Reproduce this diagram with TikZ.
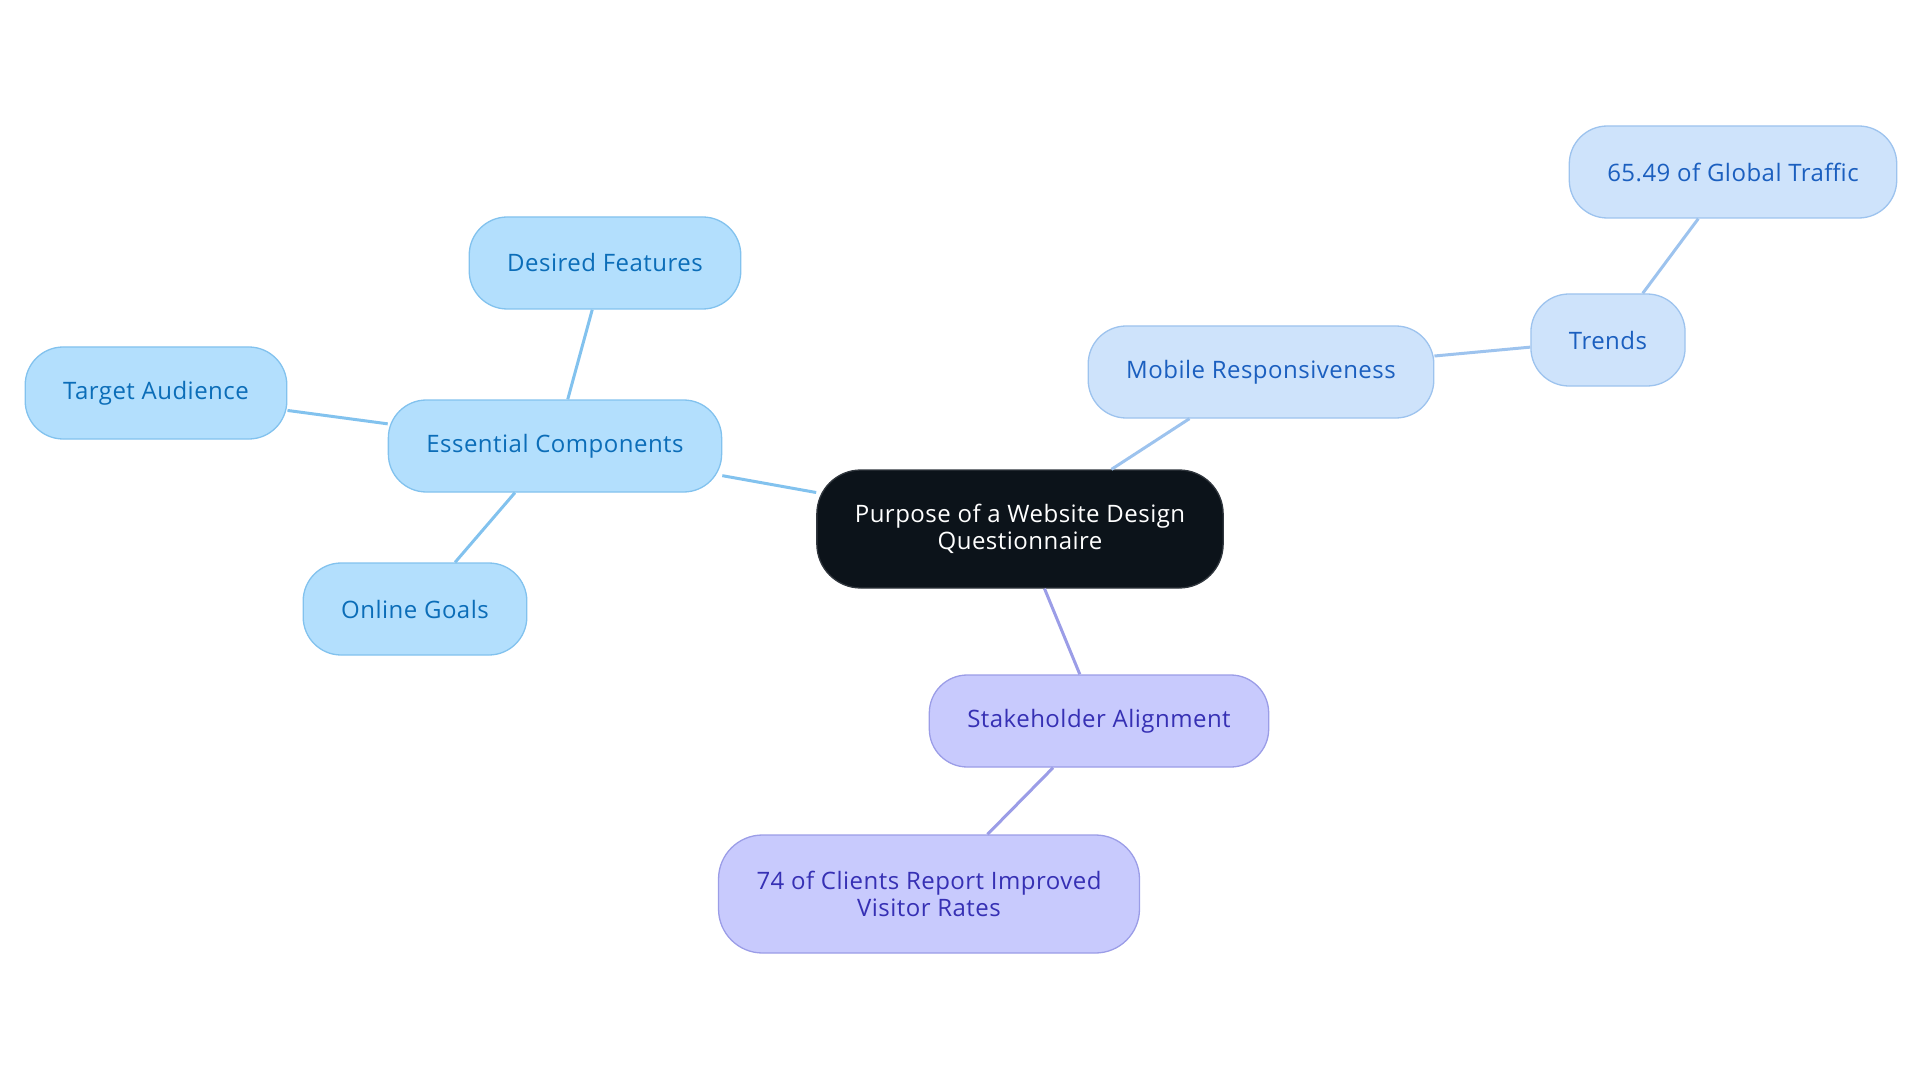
\documentclass[tikz,border=0pt]{standalone}
\usepackage{fontspec}
\setmainfont[LetterSpace=2]{Open Sans}
\usepackage{xcolor}
\usepackage{tikz}
\usetikzlibrary{positioning}

\definecolor{essfill}{HTML}{B3DFFD}
\definecolor{essdraw}{HTML}{82C2EE}
\definecolor{esstext}{HTML}{0B6DB8}
\definecolor{mobfill}{HTML}{CEE3FB}
\definecolor{mobdraw}{HTML}{9DC3EE}
\definecolor{mobtext}{HTML}{1B5FBF}
\definecolor{stkfill}{HTML}{C8CAFD}
\definecolor{stkdraw}{HTML}{9B9DE7}
\definecolor{stktext}{HTML}{3630B4}
\definecolor{rootfill}{HTML}{0C131A}
\definecolor{rootdraw}{HTML}{30363D}

\begin{document}
\begin{tikzpicture}[x=1pt, y=-1pt, font=\fontsize{24}{27}\selectfont,
		bubble/.style={draw, line width=1.3pt, rounded corners=38pt, minimum height=92pt, inner xsep=38pt, align=center},
		essnode/.style={bubble, fill=essfill, draw=essdraw, text=esstext},
		mobnode/.style={bubble, fill=mobfill, draw=mobdraw, text=mobtext},
		stknode/.style={bubble, fill=stkfill, draw=stkdraw, text=stktext},
		esslink/.style={draw=essdraw, line width=3pt},
		moblink/.style={draw=mobdraw, line width=3pt},
		stklink/.style={draw=stkdraw, line width=3pt}]
		\useasboundingbox (0,0) rectangle (1920,1083);
		\node[bubble, fill=rootfill, draw=rootdraw, text=white, minimum height=118pt, rounded corners=44pt] (root) at (1020,529) {Purpose of a Website Design\\Questionnaire};
		\node[essnode] (essential) at (555,446) {Essential Components};
		\node[essnode] (features) at (605,263) {Desired Features};
		\node[essnode] (audience) at (156,393) {Target Audience};
		\node[essnode] (goals) at (415,609) {Online Goals};
		\node[mobnode] (mobile) at (1261,372) {Mobile Responsiveness};
		\node[mobnode] (trends) at (1608,340) {Trends};
		\node[mobnode] (traffic) at (1733,172) {65.49 of Global Traffic};
		\node[stknode] (stake) at (1099,721) {Stakeholder Alignment};
		\node[stknode, minimum height=118pt, rounded corners=44pt] (clients) at (929,894) {74 of Clients Report Improved\\Visitor Rates};
		\draw[esslink] (root) -- (essential);
		\draw[esslink] (essential) -- (features);
		\draw[esslink] (essential) -- (audience);
		\draw[esslink] (essential) -- (goals);
		\draw[moblink] (root) -- (mobile);
		\draw[moblink] (mobile) -- (trends);
		\draw[moblink] (trends) -- (traffic);
		\draw[stklink] (root) -- (stake);
		\draw[stklink] (stake) -- (clients);
	\end{tikzpicture}
\end{document}
